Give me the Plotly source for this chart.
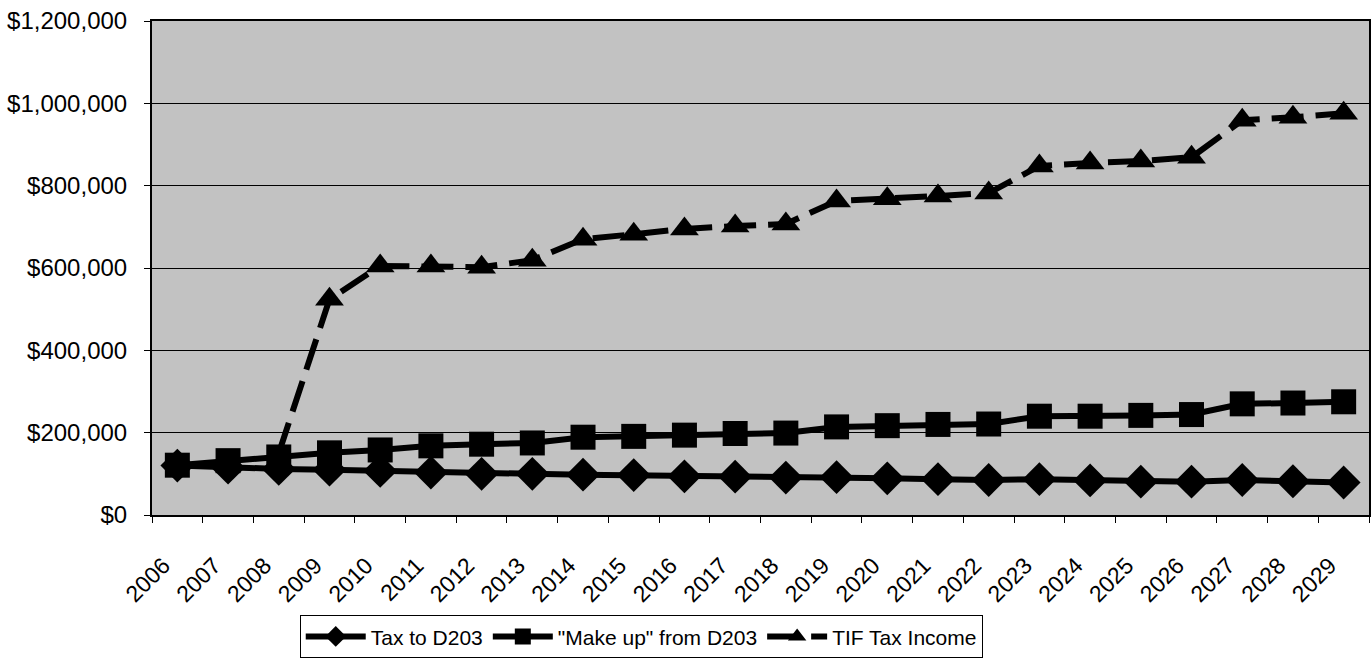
import plotly.graph_objects as go

years = [str(y) for y in range(2006, 2030)]

tax_to_d203 = [120000, 115000, 112000, 110000, 107000, 103000, 100000, 100000,
               98000, 97000, 94000, 93000, 91000, 92000, 89000, 87000,
               85000, 87000, 84000, 81000, 81000, 85000, 82000, 79000]

make_up_from_d203 = [121000, 132000, 141000, 151000, 158000, 168000, 172000, 175000,
                     189000, 191000, 194000, 198000, 199000, 214000, 217000, 220000,
                     221000, 240000, 240000, 242000, 244000, 270000, 272000, 275000]

tif_tax_income = [None, None, 150000, 524000, 605000, 605000, 602000, 619000,
                  670000, 682000, 695000, 702000, 707000, 763000, 768000, 775000,
                  782000, 848000, 855000, 860000, 869000, 959000, 966000, 976000]

series_names = ["Tax to D203", "\"Make up\" from D203", "TIF Tax Income"]

FONT = "Liberation Sans, Arial, sans-serif"

# the first TIF point has no visible marker in the reference
tif_sizes = [0 if (i == 0 or tif_tax_income[i - 1] is None) else 25
             for i in range(len(tif_tax_income))]

fig = go.Figure()
fig.add_trace(go.Scatter(
    x=years, y=tax_to_d203, name=series_names[0], mode="lines+markers",
    line=dict(color="black", width=6),
    marker=dict(symbol="diamond", size=26, color="black", opacity=1,
                line=dict(width=0)),
))
fig.add_trace(go.Scatter(
    x=years, y=make_up_from_d203, name=series_names[1], mode="lines+markers",
    line=dict(color="black", width=6),
    marker=dict(symbol="square", size=25, color="black", opacity=1,
                line=dict(width=0)),
))
fig.add_trace(go.Scatter(
    x=years, y=tif_tax_income, name=series_names[2], mode="lines+markers",
    line=dict(color="black", width=6, dash="32px,12px"),
    marker=dict(symbol="triangle-up", size=tif_sizes, sizemode="diameter",
                color="black", opacity=1, line=dict(width=0, color="black")),
    connectgaps=False,
))

fig.update_layout(
    width=1371, height=660,
    margin=dict(l=152, r=0, t=21, b=145),
    paper_bgcolor="white",
    plot_bgcolor="#c2c2c2",
    font=dict(family=FONT, size=20, color="black"),
    showlegend=True,
    legend=dict(
        orientation="h",
        x=0.402, xanchor="center",
        y=-0.203, yanchor="top",
        bgcolor="white", bordercolor="black", borderwidth=1,
        font=dict(family=FONT, size=21, color="black"),
        itemwidth=60,
        tracegroupgap=0,
    ),
)

fig.update_xaxes(
    type="category",
    range=[-0.5, len(years) - 0.5],
    autorange=False,
    tickangle=-45,
    tickson="boundaries",
    ticks="outside", ticklen=6, tickcolor="black", tickwidth=1,
    ticklabelstandoff=26,
    ticklabelshift=-14,
    showline=True, linecolor="black", linewidth=2, mirror=True,
    showgrid=False,
    tickfont=dict(family=FONT, size=23, color="black"),
)
fig.update_yaxes(
    range=[0, 1200000],
    autorange=False,
    dtick=200000,
    tickformat="$,.0f",
    ticks="outside", ticklen=6, tickcolor="black", tickwidth=1,
    ticklabelstandoff=12,
    showline=True, linecolor="black", linewidth=2, mirror=True,
    showgrid=True, gridcolor="black", gridwidth=1,
    zeroline=False,
    tickfont=dict(family=FONT, size=24, color="black"),
)

fig.write_html("out.html")
